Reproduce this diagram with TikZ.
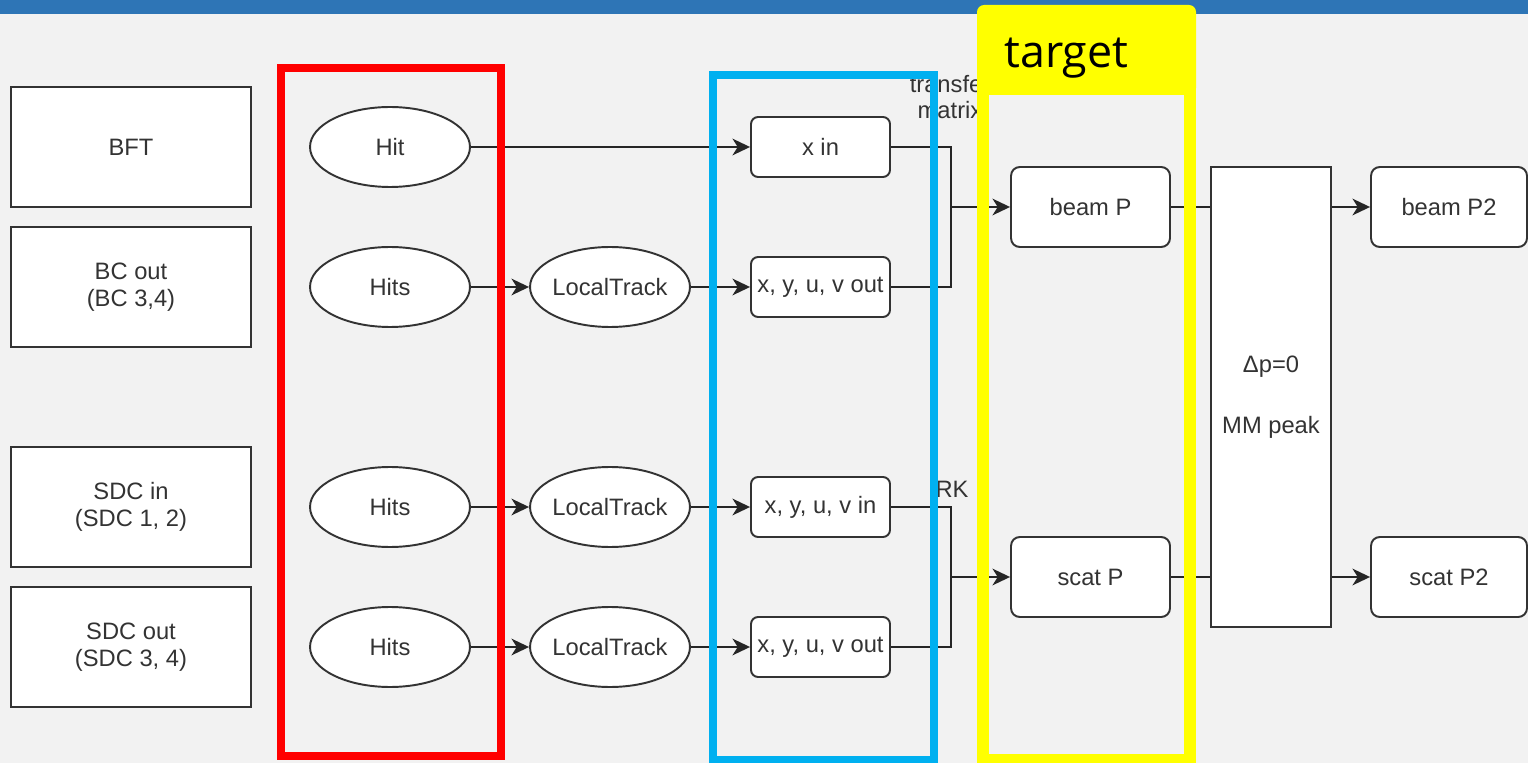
\documentclass[tikz,border=0pt]{standalone}
\usepackage{fontspec}
\setmainfont{Liberation Sans}
\newfontfamily\tagfont{Open Sans}
\usepackage{tikz}
\usetikzlibrary{arrows.meta,shapes.geometric}

\definecolor{barblue}{HTML}{2E75B6}
\definecolor{paper}{HTML}{F2F2F2}
\definecolor{ink}{HTML}{333333}
\definecolor{skyline}{HTML}{00B0F0}
\definecolor{tgyellow}{HTML}{FFFF00}

\begin{document}
\begin{tikzpicture}[
  x=0.02cm, y=-0.02cm,
  font=\fontsize{13.5}{15.2}\selectfont,
  det/.style={rectangle, draw=black!80, fill=white, line width=1.1pt,
    minimum width=4.8cm, minimum height=2.4cm, align=center, text=ink},
  hitn/.style={ellipse, draw=black!80, fill=white, line width=1.1pt,
    minimum width=3.2cm, minimum height=1.6cm, inner xsep=-8pt, text=ink},
  vec/.style={rectangle, rounded corners=4pt, draw=black!80, fill=white, line width=1.1pt,
    minimum width=2.78cm, minimum height=1.2cm, inner sep=0pt, text=ink},
  mom/.style={rectangle, rounded corners=5pt, draw=black!80, fill=white, line width=1.1pt,
    minimum width=3.18cm, minimum height=1.6cm, text=ink},
  note/.style={text=ink, align=center, inner sep=0pt},
  link/.style={line width=1.1pt, draw=black!85},
  arrow/.style={link, -{Stealth[length=10pt, width=9.5pt, inset=3pt]}}
]
  \useasboundingbox (0,0) rectangle (1528,763);
  \fill[paper] (0,0) rectangle (1528,763);
  \fill[barblue] (0,0) rectangle (1528,14);

  % detectors
  \node[det] (bft) at (131,147) {BFT};
  \node[det] (bcout) at (131,287) {BC out\\(BC 3,4)};
  \node[det] (sdcin) at (131,507) {SDC in\\(SDC 1, 2)};
  \node[det] (sdcout) at (131,647) {SDC out\\(SDC 3, 4)};

  % hits and local tracks
  \node[hitn] (h0) at (390,147) {Hit};
  \node[hitn] (h1) at (390,287) {Hits};
  \node[hitn] (h2) at (390,507) {Hits};
  \node[hitn] (h3) at (390,647) {Hits};
  \node[hitn] (lt1) at (610,287) {LocalTrack};
  \node[hitn] (lt2) at (610,507) {LocalTrack};
  \node[hitn] (lt3) at (610,647) {LocalTrack};

  % track parameters
  \node[vec] (xin) at (820.5,147) {x in};
  \node[vec] (xy1) at (820.5,287) {x, y, u, v out};
  \node[vec] (xy2) at (820.5,507) {x, y, u, v in};
  \node[vec] (xy3) at (820.5,647) {x, y, u, v out};

  \draw[arrow] (h0) -- (xin);
  \draw[arrow] (h1) -- (lt1);
  \draw[arrow] (lt1) -- (xy1);
  \draw[arrow] (h2) -- (lt2);
  \draw[arrow] (lt2) -- (xy2);
  \draw[arrow] (h3) -- (lt3);
  \draw[arrow] (lt3) -- (xy3);

  \node[note] (tm) at (950,97) {transfer\\matrix};
  \node[note] (rk) at (952,489) {RK};

  % momenta
  \node[mom] (beamp) at (1090.5,207) {beam P};
  \node[mom] (scatp) at (1090.5,577) {scat P};
  \node[rectangle, draw=black!80, fill=white, line width=1.1pt, minimum width=2.4cm,
    minimum height=9.2cm, align=center, text=ink] (mm) at (1271,397) {Δp=0\\[4pt]\mbox{}\\MM peak};
  \node[mom, minimum width=3.12cm] (beamp2) at (1449,207) {beam P2};
  \node[mom, minimum width=3.12cm] (scatp2) at (1449,577) {scat P2};

  \coordinate (jtop) at (951,207);
  \coordinate (jbot) at (951,577);
  \draw[link] (xin.east) -| (jtop) |- (xy1.east);
  \draw[arrow] (jtop) -- (beamp);
  \draw[link] (xy2.east) -| (jbot) |- (xy3.east);
  \draw[arrow] (jbot) -- (scatp);

  \draw[link] (beamp.east) -- (beamp.east -| mm.west);
  \draw[link] (scatp.east) -- (scatp.east -| mm.west);
  \draw[arrow] (beamp2.west -| mm.east) -- (beamp2);
  \draw[arrow] (scatp2.west -| mm.east) -- (scatp2);

  % highlight frames
  \draw[red, line width=4.5pt] (281,68) rectangle (501,756);
  \draw[skyline, line width=4pt] (713,75) rectangle (934,760);
  \fill[tgyellow, rounded corners=4pt] (977,5) rectangle (1196,95);
  \draw[tgyellow, line width=6.8pt] (983,89) rectangle (1190,760);
  \node[anchor=base west, inner sep=0pt, font=\tagfont\fontsize{25.5}{28}\selectfont] (tg) at (1004,68) {target};
\end{tikzpicture}
\end{document}
